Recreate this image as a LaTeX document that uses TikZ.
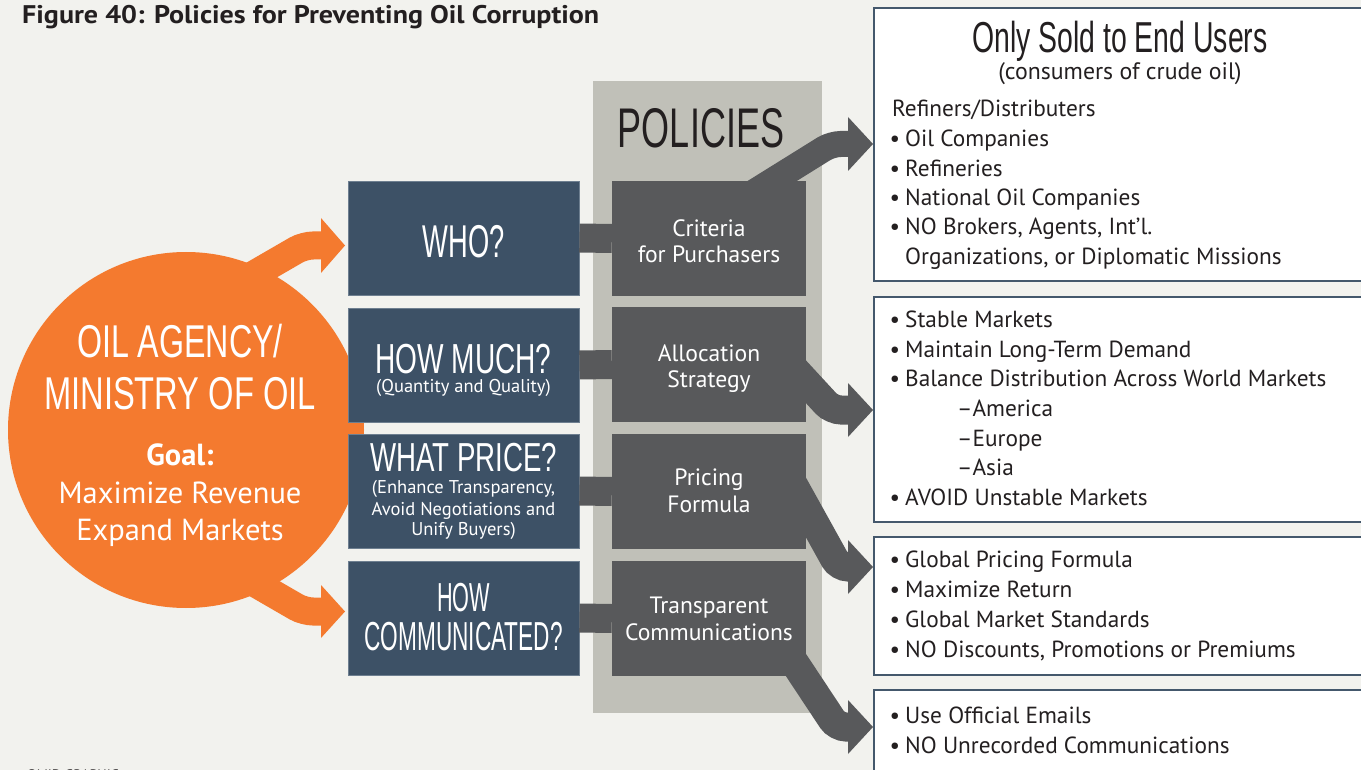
\documentclass[tikz,border=0pt]{standalone}
\usepackage{fontspec}
\usepackage{graphicx}
\setmainfont{PT Sans}
\newfontfamily\condfont{Liberation Sans}
\definecolor{bgc}{HTML}{F2F2EE}
\definecolor{orng}{HTML}{F47A2F}
\definecolor{slate}{HTML}{3D5166}
\definecolor{slatelight}{HTML}{6E7F90}
\definecolor{dgray}{HTML}{58595B}
\definecolor{pgray}{HTML}{C0C0B8}
\definecolor{ink}{HTML}{231F20}
\definecolor{rborder}{HTML}{44586C}
\newcommand{\cnd}[3]{\scalebox{#2}[1]{\fontsize{#1}{#1}\selectfont\condfont #3}}
\newcommand{\fs}[1]{\fontsize{#1}{#1}\selectfont}
\newcommand{\headat}[3]{\fill[#1] (#2,#3-27) -- (#2+25,#3) -- (#2,#3+27) -- cycle;}
\tikzset{
  bluebox/.style={rectangle, fill=slate, draw=slatelight, line width=0.8pt, minimum width=231pt, minimum height=114pt, inner sep=0pt},
  darkbox/.style={rectangle, fill=dgray, minimum width=194pt, minimum height=115pt, inner sep=0pt},
  rbox/.style={rectangle, fill=white, draw=rborder, line width=2pt, minimum width=501pt, inner sep=0pt},
  link/.style={draw=dgray, line width=29pt},
  band/.style={draw=dgray, line width=29pt, rounded corners=9pt},
  oband/.style={draw=orng, line width=28pt, rounded corners=9pt},
  txt/.style={inner sep=0pt, anchor=base west, text=ink, font=\fs{23.3}},
  wtxt/.style={inner sep=0pt, anchor=base, text=white, font=\fs{23.6}},
  ctxt/.style={inner sep=0pt, anchor=base},
}
\newcommand{\bl}[3]{\node[txt] (#1b) at (889.5,#2) {\textbullet}; \node[txt] (#1) at (905,#2) {#3};}
\begin{document}
\begin{tikzpicture}[x=1pt,y=-1pt]
\useasboundingbox (0,0) rectangle (1361,770);
\fill[bgc] (0,0) rectangle (1361,770);

% title
\node[inner sep=0pt, anchor=base west, text=ink] (title) at (22,24) {\scalebox{1.10}[1]{\fs{25.5}\bfseries Figure 40: Policies for Preventing Oil Corruption}};
\node[inner sep=0pt, anchor=base west, text=ink!80, font=\fs{14}] (credit) at (27,779) {OMID GRAPHIC};

% policies panel
\node[rectangle, fill=pgray, minimum width=229pt, minimum height=632pt, inner sep=0pt] (panel) at (707.5,397) {};
\node[ctxt, text=ink] (poltxt) at (701,148) {\cnd{55.9}{0.644}{POLICIES}};

% dark gray arrows to right boxes
\coordinate (aS) at (740,201);   \coordinate (aB) at (831.6,144); \coordinate (aE) at (849,144);
\coordinate (bS) at (780,353.6); \coordinate (bB) at (832,410);   \coordinate (bE) at (849,410);
\coordinate (cS) at (780,460.7); \coordinate (cB) at (839,567);   \coordinate (cE) at (849,567);
\coordinate (dS) at (790,656);   \coordinate (dB) at (837,727);   \coordinate (dE) at (849,727);
\draw[band, line width=26pt] (aS) -- (aB) -- (aE);
\draw[band] (bS) -- (bB) -- (bE);
\draw[band] (cS) -- (cB) -- (cE);
\draw[band] (dS) -- (dB) -- (dE);
\headat{dgray}{848}{144}
\headat{dgray}{848}{410}
\headat{dgray}{848}{567}
\headat{dgray}{848}{727}

% dark policy boxes
\node[darkbox] (crit) at (709,238.5) {};
\node[darkbox] (alloc) at (709,364.5) {};
\node[darkbox] (pricing) at (709,491.5) {};
\node[darkbox] (trans) at (709,618.5) {};

% orange circle and arrows
\node[circle, fill=orng, minimum size=356pt, inner sep=0pt] (agency) at (186,430) {};
\coordinate (oS1) at (215,297); \coordinate (oB1) at (304,245.5); \coordinate (oE1) at (322,245.5);
\coordinate (oS2) at (215,560); \coordinate (oB2) at (304,611.5); \coordinate (oE2) at (322,611.5);
\draw[oband] (oS1) -- (oB1) -- (oE1);
\draw[oband] (oS2) -- (oB2) -- (oE2);
\fill[orng] (321,218) -- (345,245.5) -- (321,273) -- cycle;
\fill[orng] (321,585) -- (345,611.5) -- (321,638) -- cycle;

% blue question boxes
\node[bluebox] (who) at (463.5,238) {};
\node[bluebox] (much) at (463.5,365) {};
\node[bluebox] (price) at (463.5,491) {};
\node[bluebox] (comm) at (463.5,618) {};

% links
\draw[link] (who.east) -- (crit.west);
\draw[link] (much.east) -- (alloc.west);
\draw[link] (price.east) -- (pricing.west);
\draw[link] (comm.east) -- (trans.west);

% right boxes
\node[rbox, minimum height=273pt] (r1) at (1124.5,144.5) {};
\node[rbox, minimum height=225pt] (r2) at (1124.5,409.5) {};
\node[rbox, minimum height=138pt] (r3) at (1124.5,606) {};
\node[rbox, minimum height=100pt] (r4) at (1124.5,740) {};

% circle text
\node[ctxt, text=white] (ag1) at (180,357) {\cnd{46}{0.70}{OIL AGENCY/}};
\node[ctxt, text=white] (ag2) at (180,409) {\cnd{46}{0.71}{MINISTRY OF OIL}};
\node[ctxt, text=white, font=\fs{30.5}\bfseries] (goal) at (180,465) {Goal:};
\node[ctxt, text=white, font=\fs{30.5}] (goal1) at (180,503) {Maximize Revenue};
\node[ctxt, text=white, font=\fs{30.5}] (goal2) at (180,540) {Expand Markets};

% blue box text
\node[ctxt, text=white] (whot) at (463.5,258) {\cnd{46}{0.594}{WHO?}};
\node[ctxt, text=white] (mucht) at (463.5,373) {\cnd{42}{0.668}{HOW MUCH?}};
\node[ctxt, text=white, font=\fs{18.5}] (muchs) at (463.5,392) {(Quantity and Quality)};
\node[ctxt, text=white] (pricet) at (463.5,471) {\cnd{40.5}{0.683}{WHAT PRICE?}};
\node[ctxt, text=white, font=\fs{18.5}] (prices1) at (463.5,493) {(Enhance Transparency,};
\node[ctxt, text=white, font=\fs{18.5}] (prices2) at (463.5,515) {Avoid Negotiations and};
\node[ctxt, text=white, font=\fs{18.5}] (prices3) at (463.5,535) {Unify Buyers)};
\node[ctxt, text=white] (commt1) at (463.5,611) {\cnd{40.5}{0.535}{HOW}};
\node[ctxt, text=white] (commt2) at (463.5,650) {\cnd{40.5}{0.559}{COMMUNICATED?}};

% dark box text
\node[wtxt] (c1) at (709,237) {Criteria};
\node[wtxt] (c2) at (709,263) {for Purchasers};
\node[wtxt] (a1) at (709,361) {Allocation};
\node[wtxt] (a2) at (709,387) {Strategy};
\node[wtxt] (p1) at (709,485) {Pricing};
\node[wtxt] (p2) at (709,512) {Formula};
\node[wtxt] (t1) at (709,613) {Transparent};
\node[wtxt] (t2) at (709,640) {Communications};

% right box 1
\node[ctxt, text=ink] (r1h) at (1120,53) {\cnd{43.3}{0.656}{Only Sold to End Users}};
\node[ctxt, text=ink, font=\fs{23.8}] (r1s) at (1120,80) {(consumers of crude oil)};
\node[txt] (r1a) at (892,117) {Refiners/Distributers};
\bl{r1b}{147}{Oil Companies}
\bl{r1c}{177}{Refineries}
\bl{r1d}{206}{National Oil Companies}
\bl{r1e}{235}{NO Brokers, Agents, Int’l.}
\node[txt] (r1f) at (905,265) {Organizations, or Diplomatic Missions};

% right box 2
\bl{r2a}{327}{Stable Markets}
\bl{r2b}{357}{Maintain Long-Term Demand}
\bl{r2c}{386.5}{Balance Distribution Across World Markets}
\node[txt] (r2d) at (957,416.5) {–America};
\node[txt] (r2e) at (957,446) {–Europe};
\node[txt] (r2f) at (957,475) {–Asia};
\bl{r2g}{505}{AVOID Unstable Markets}

% right box 3
\bl{r3a}{567}{Global Pricing Formula}
\bl{r3b}{597}{Maximize Return}
\bl{r3c}{627}{Global Market Standards}
\bl{r3d}{657}{NO Discounts, Promotions or Premiums}

% right box 4
\bl{r4a}{723}{Use Official Emails}
\bl{r4b}{753}{NO Unrecorded Communications}
\end{tikzpicture}
\end{document}
